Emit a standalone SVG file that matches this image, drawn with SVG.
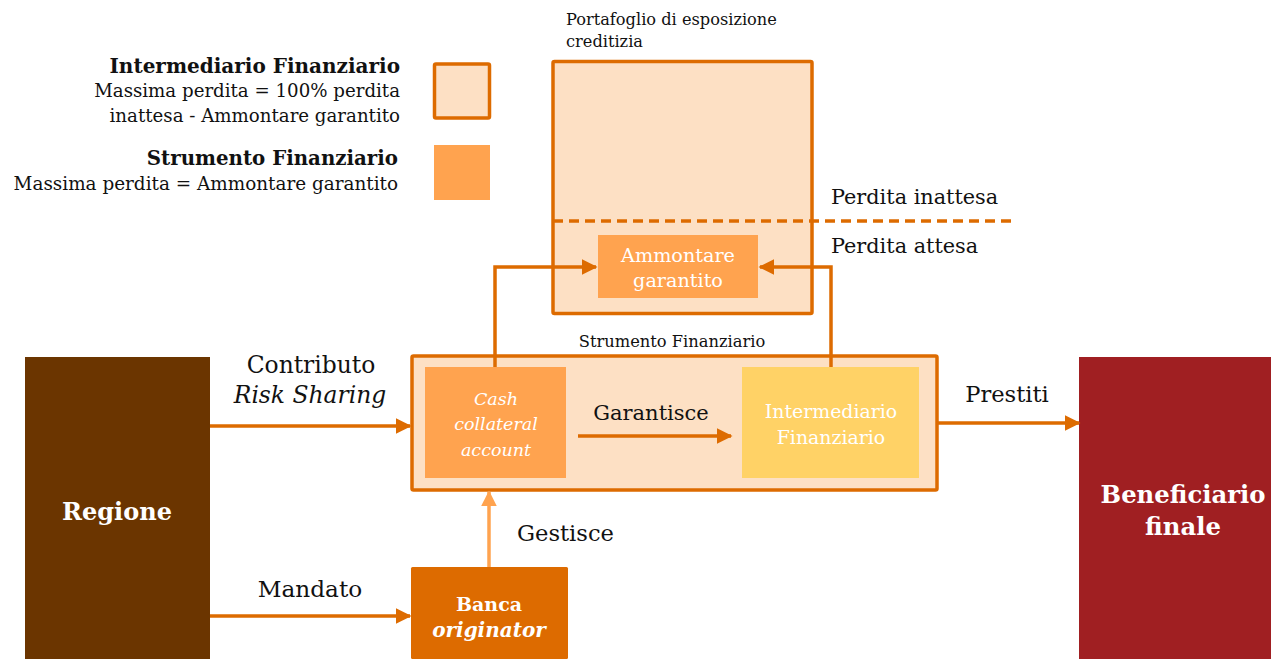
<svg xmlns="http://www.w3.org/2000/svg" width="1271" height="659" viewBox="0 0 1271 659">
<defs>
<style>
text{font-family:"DejaVu Serif","Liberation Serif",serif;}
.t{fill:#111;}
.w{fill:#fff;}
.b{font-weight:bold;}
.i{font-style:italic;}
.box{fill:#FDE0C4;stroke:#DD6B00;stroke-width:3.5;}
.con{fill:none;stroke:#DD6B00;stroke-width:3.5;}
.conl{fill:none;stroke:#FFA34F;stroke-width:3.5;}
</style>
<marker id="ah" viewBox="0 0 10 10" refX="9" refY="5" markerWidth="4.5" markerHeight="4.5" orient="auto" markerUnits="strokeWidth"><path d="M0,0 L10,5 L0,10 z" fill="#DD6B00"/></marker>
<marker id="ahl" viewBox="0 0 10 10" refX="9" refY="5" markerWidth="4.5" markerHeight="4.5" orient="auto" markerUnits="strokeWidth"><path d="M0,0 L10,5 L0,10 z" fill="#FFA34F"/></marker>
</defs>
<rect width="1271" height="659" fill="#fff"/>
<g id="legend">
<text class="t b" x="400" y="73" text-anchor="end" font-size="20">Intermediario Finanziario</text>
<text class="t" x="400" y="97" text-anchor="end" font-size="18.2">Massima perdita = 100% perdita</text>
<text class="t" x="400" y="122" text-anchor="end" font-size="18.2">inattesa - Ammontare garantito</text>
<rect class="box" x="434.5" y="64" width="55" height="54" rx="1.5"/>
<text class="t b" x="398" y="165" text-anchor="end" font-size="19.8">Strumento Finanziario</text>
<text class="t" x="398" y="190" text-anchor="end" font-size="18.4">Massima perdita = Ammontare garantito</text>
<rect x="434" y="145" width="56" height="55" fill="#FFA34F"/>
</g>
<g id="portafoglio">
<text class="t" x="566" y="25" font-size="16.2">Portafoglio di esposizione</text>
<text class="t" x="566" y="47" font-size="16.2">creditizia</text>
<rect class="box" x="553" y="61.5" width="259" height="252" rx="1.5"/>
<text class="t" x="831" y="204" font-size="20.8">Perdita inattesa</text>
<text class="t" x="831" y="253" font-size="20.8">Perdita attesa</text>
</g>
<g id="ammontare">
<rect x="598" y="235" width="160" height="63" fill="#FFA34F"/>
<text class="w" x="678" y="262" text-anchor="middle" font-size="19.2">Ammontare</text>
<text class="w" x="678" y="287" text-anchor="middle" font-size="19.2">garantito</text>
</g>
<g id="strumento">
<text class="t" x="672" y="347" text-anchor="middle" font-size="16.3">Strumento Finanziario</text>
<rect class="box" x="412" y="356" width="525" height="134" rx="1.5"/>
</g>
<g id="cash">
<rect x="425" y="367" width="141" height="111" fill="#FFA34F"/>
<text class="w i" x="496" y="405" text-anchor="middle" font-size="17.5">Cash</text>
<text class="w i" x="496" y="430" text-anchor="middle" font-size="17.5">collateral</text>
<text class="w i" x="496" y="456" text-anchor="middle" font-size="17.5">account</text>
</g>
<g id="intermediario">
<rect x="742" y="367" width="177" height="111" fill="#FFD266"/>
<text class="w" x="831" y="418" text-anchor="middle" font-size="18.9">Intermediario</text>
<text class="w" x="831" y="444" text-anchor="middle" font-size="18.9">Finanziario</text>
</g>
<g id="regione">
<rect x="25" y="357" width="185" height="302" fill="#6B3500"/>
<text class="w b" x="117" y="520" text-anchor="middle" font-size="24">Regione</text>
</g>
<g id="banca">
<rect x="411" y="567" width="157" height="92" rx="1.5" fill="#DD6B00"/>
<text class="w b" x="489" y="611" text-anchor="middle" font-size="19">Banca</text>
<text class="w b i" x="489" y="637" text-anchor="middle" font-size="20">originator</text>
</g>
<g id="beneficiario">
<rect x="1079" y="357" width="192" height="302" fill="#A01F22"/>
<text class="w b" x="1183" y="503" text-anchor="middle" font-size="24.3">Beneficiario</text>
<text class="w b" x="1183" y="535" text-anchor="middle" font-size="24.3">finale</text>
</g>
<g id="connectors">
<line x1="553" y1="221" x2="1013" y2="221" stroke="#DD6B00" stroke-width="3.5" stroke-dasharray="10,6"/>
<polyline class="con" points="495,367 495,267 596,267" marker-end="url(#ah)"/>
<polyline class="con" points="831,367 831,267 760,267" marker-end="url(#ah)"/>
<line class="con" x1="578" y1="436" x2="731" y2="436" marker-end="url(#ah)"/>
<line class="con" x1="210" y1="426" x2="410" y2="426" marker-end="url(#ah)"/>
<line class="con" x1="210" y1="616" x2="410" y2="616" marker-end="url(#ah)"/>
<line class="conl" x1="489" y1="567" x2="489" y2="492" marker-end="url(#ahl)"/>
<line class="con" x1="938" y1="423" x2="1079" y2="423" marker-end="url(#ah)"/>
<text class="t" x="311" y="373" text-anchor="middle" font-size="23.4">Contributo</text>
<text class="t i" x="310" y="403" text-anchor="middle" font-size="23.4">Risk Sharing</text>
<text class="t" x="310" y="597" text-anchor="middle" font-size="23.2">Mandato</text>
<text class="t" x="651" y="420" text-anchor="middle" font-size="21">Garantisce</text>
<text class="t" x="517" y="541" font-size="22.6">Gestisce</text>
<text class="t" x="1007" y="402" text-anchor="middle" font-size="22.6">Prestiti</text>
</g>
</svg>
